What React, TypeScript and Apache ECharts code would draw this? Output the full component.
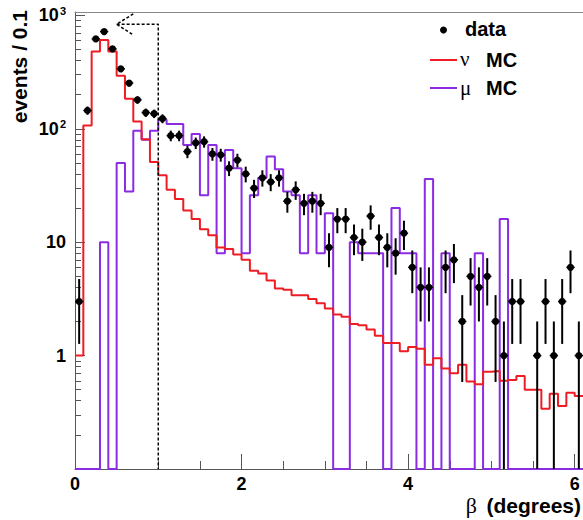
import React, { useEffect, useRef } from 'react';
import * as echarts from 'echarts';

// ---- data (bins of 0.1 degree, from 0 to 6.1) ----
const binWidth = 0.1;
const xMin = 0;
const xMax = 6.1;
const yMinLog = -1; // 0.1
const yMaxLog = 3.03; // ~1070

const dataCounts = [
  3, 145, 620, 720, 507, 338, 253, 180, 139, 136,
  123, 87, 87, 63, 75, 77, 60, 59, 45, 53,
  40, 30, 37, 34, 37, 23, 29, 22, 23, 22,
  9, 16, 16, 11, 10, 17, 11, 9, 8, 12,
  6, 4, 4, 0, 6, 7, 2, 5, 4, 5,
  2, 1, 3, 3, 0, 1, 3, 1, 3, 6, 1,
];

const nuMC = [
  1.0, 107, 480, 608, 480, 293, 184, 116, 81, 51,
  39, 29, 24, 19, 16, 13, 11.5, 9, 8.7, 7.8,
  7.0, 5.6, 5.3, 4.6, 3.9, 3.8, 3.4, 3.4, 3.15, 2.9,
  2.6, 2.3, 2.2, 1.9, 1.85, 1.7, 1.5, 1.29, 1.29, 1.09,
  1.19, 1.15, 0.83, 0.95, 0.77, 0.7, 0.83, 0.59, 0.56, 0.72,
  0.73, 0.6, 0.61, 0.66, 0.5, 0.5, 0.34, 0.46, 0.36, 0.47, 0.44,
];

const muMC = [
  0, 0, 0, 10, 0, 50, 28, 96, 80, 96,
  120, 110, 110, 72, 90, 26, 72, 8, 65, 45,
  8, 26, 37, 57, 44, 28, 26, 8, 26, 8,
  18, 0, 0, 10, 8, 8, 8, 0, 20, 8,
  8, 0, 36, 0, 8, 0, 0, 0, 8, 0,
  0, 16, 0, 0, 0, 0, 0, 0, 0, 0, 0,
];

// cut marker (dashed line with arrow)
const cutX = 1.0;
const cutLevel = 836;
const arrowTipX = 0.5;
const arrowArmX = 0.7;
const arrowArmHigh = 1031;
const arrowArmLow = 673;

const xMajorTicks = [0, 2, 4, 6];
const xMinorTicks = [0.5, 1, 1.5, 2.5, 3, 3.5, 4.5, 5, 5.5];
const yMajorTicks = [0, 1, 2, 3]; // log10 values: 1, 10, 10^2, 10^3
const yMinorValues = [
  0.2, 0.3, 0.4, 0.5, 0.6, 0.7, 0.8, 0.9,
  2, 3, 4, 5, 6, 7, 8, 9,
  20, 30, 40, 50, 60, 70, 80, 90,
  200, 300, 400, 500, 600, 700, 800, 900,
];

const RED = '#ee1c25';
const PURPLE = '#8b2be2';
const SANS = '"Liberation Sans", Arial, Helvetica, sans-serif';
const SERIF = '"Liberation Serif", "DejaVu Serif", serif';

const lg = (v: number) => (v > 0 ? Math.max(Math.log10(v), yMinLog) : yMinLog);

function steps(vals: number[]) {
  const pts: number[][] = [];
  vals.forEach((v, i) => {
    const y = lg(v);
    pts.push([i * binWidth, y], [(i + 1) * binWidth, y]);
  });
  return pts;
}

export default function App() {
  const ref = useRef<HTMLDivElement>(null);
  useEffect(() => {
    if (!ref.current) return;
    const chart = echarts.init(ref.current, null, { renderer: 'svg' });
    const axisCommon = { type: 'value', min: xMin, max: xMax, splitLine: { show: false } };
    const yCommon = { type: 'value', min: yMinLog, max: yMaxLog, splitLine: { show: false } };
    const option: any = {
      animation: false,
      backgroundColor: '#fff',
      grid: { left: 75, right: 0, top: 12, bottom: 51, containLabel: false },
      xAxis: [
        {
          ...axisCommon,
          position: 'bottom',
          axisLine: { show: true, onZero: false, lineStyle: { color: '#555', width: 1 } },
          axisTick: { show: true, inside: true, length: 15, customValues: xMajorTicks, lineStyle: { color: '#555' } },
          axisLabel: {
            customValues: xMajorTicks,
            fontSize: 18,
            lineHeight: 16,
            fontWeight: 'bold',
            fontFamily: SANS,
            color: '#000',
            margin: 7,
            formatter: (v: number) => String(v),
          },
        },
        {
          ...axisCommon,
          position: 'bottom',
          axisLine: { show: false, onZero: false },
          axisTick: { show: true, inside: true, length: 8, customValues: xMinorTicks, lineStyle: { color: '#555' } },
          axisLabel: { show: false },
        },
        {
          ...axisCommon,
          position: 'top',
          axisLine: { show: true, onZero: false, lineStyle: { color: '#888', width: 1 } },
          axisTick: { show: false },
          axisLabel: { show: false },
        },
      ],
      yAxis: [
        {
          ...yCommon,
          position: 'left',
          axisLine: { show: true, onZero: false, lineStyle: { color: '#555', width: 1 } },
          axisTick: { show: true, inside: true, length: 10, customValues: yMajorTicks, lineStyle: { color: '#555' } },
          axisLabel: {
            customValues: yMajorTicks,
            margin: 9,
            fontSize: 18,
            fontWeight: 'bold',
            fontFamily: SANS,
            color: '#000',
            formatter: (v: number) => {
              const r = Math.round(v);
              if (Math.abs(v - r) > 1e-6) return '';
              if (r === 0) return '1';
              if (r === 1) return '10';
              if (r >= 2) return `10{sup|${r}}`;
              return '';
            },
            rich: {
              sup: { fontSize: 11, fontWeight: 'bold', fontFamily: SANS, color: '#000', padding: [0, 0, 9, 1] },
            },
          },
        },
        {
          ...yCommon,
          position: 'left',
          axisLine: { show: false, onZero: false },
          axisTick: { show: true, inside: true, length: 6, customValues: yMinorValues.map((v) => Math.log10(v)), lineStyle: { color: '#555' } },
          axisLabel: { show: false },
        },
      ],
      series: [
        {
          name: 'μ MC',
          type: 'line',
          data: steps(muMC),
          symbol: 'none',
          lineStyle: { color: PURPLE, width: 2 },
          z: 3,
        },
        {
          name: 'ν MC',
          type: 'line',
          data: steps(nuMC),
          symbol: 'none',
          lineStyle: { color: RED, width: 2 },
          z: 4,
        },
        {
          name: 'cut',
          type: 'line',
          data: [
            [arrowTipX, Math.log10(cutLevel)],
            [cutX, Math.log10(cutLevel)],
            [cutX, yMinLog],
          ],
          symbol: 'none',
          lineStyle: { color: '#000', width: 1.5, type: [3, 2] },
          z: 5,
        },
        {
          name: 'arrow',
          type: 'line',
          data: [
            [arrowArmX, Math.log10(arrowArmHigh)],
            [arrowTipX, Math.log10(cutLevel)],
            [arrowArmX, Math.log10(arrowArmLow)],
          ],
          symbol: 'none',
          lineStyle: { color: '#000', width: 1.5, type: [3, 2] },
          z: 5,
        },
        {
          name: 'data',
          type: 'custom',
          data: dataCounts.map((n, i) => [(i + 0.5) * binWidth, n]),
          encode: { x: 0, y: 1 },
          clip: true,
          z: 6,
          renderItem: (params: any, api: any) => {
            const x = api.value(0) as number;
            const n = api.value(1) as number;
            if (!(n > 0)) return null;
            const e = Math.sqrt(n);
            const ly = Math.log10(n);
            const c = api.coord([x, ly]);
            const top = api.coord([x, lg(n + e)]);
            const bot = api.coord([x, lg(n - e)]);
            const l = api.coord([x - binWidth / 2, ly]);
            const r = api.coord([x + binWidth / 2, ly]);
            return {
              type: 'group',
              children: [
                { type: 'line', shape: { x1: c[0], y1: top[1], x2: c[0], y2: bot[1] }, style: { stroke: '#000', lineWidth: 2 } },
                { type: 'line', shape: { x1: l[0], y1: c[1], x2: r[0], y2: c[1] }, style: { stroke: '#000', lineWidth: 1.5 } },
                { type: 'circle', shape: { cx: c[0], cy: c[1], r: 3.6 }, style: { fill: '#000' } },
              ],
            };
          },
        },
      ],
      graphic: [
        { type: 'circle', shape: { cx: 443.5, cy: 30, r: 3.5 }, style: { fill: '#000' } },
        {
          type: 'text', x: 465, y: 29,
          style: { text: 'data', font: `bold 20px ${SANS}`, fill: '#000', verticalAlign: 'middle', textVerticalAlign: 'middle' },
        },
        { type: 'line', shape: { x1: 430, y1: 60, x2: 457, y2: 60 }, style: { stroke: RED, lineWidth: 2 } },
        {
          type: 'text', x: 460, y: 59,
          style: { text: 'ν', font: `21px ${SERIF}`, fill: '#000', verticalAlign: 'middle', textVerticalAlign: 'middle' },
        },
        {
          type: 'text', x: 486, y: 60,
          style: { text: 'MC', font: `bold 20px ${SANS}`, fill: '#000', verticalAlign: 'middle', textVerticalAlign: 'middle' },
        },
        { type: 'line', shape: { x1: 430, y1: 88, x2: 457, y2: 88 }, style: { stroke: PURPLE, lineWidth: 2 } },
        {
          type: 'text', x: 460, y: 88,
          style: { text: 'μ', font: `21px ${SERIF}`, fill: '#000', verticalAlign: 'middle', textVerticalAlign: 'middle' },
        },
        {
          type: 'text', x: 486, y: 88,
          style: { text: 'MC', font: `bold 20px ${SANS}`, fill: '#000', verticalAlign: 'middle', textVerticalAlign: 'middle' },
        },
        {
          type: 'text', x: 19, y: 10, rotation: Math.PI / 2,
          style: {
            text: 'events / 0.1', font: `bold 21px ${SANS}`, fill: '#000',
            align: 'right', textAlign: 'right', verticalAlign: 'middle', textVerticalAlign: 'middle',
          },
        },
        {
          type: 'text', x: 477, y: 505,
          style: { text: 'β', font: `22px ${SERIF}`, lineHeight: 20, fill: '#000', align: 'right', textAlign: 'right', verticalAlign: 'middle', textVerticalAlign: 'middle' },
        },
        {
          type: 'text', x: 581, y: 505,
          style: { text: '(degrees)', font: `bold 21px ${SANS}`, lineHeight: 20, fill: '#000', align: 'right', textAlign: 'right', verticalAlign: 'middle', textVerticalAlign: 'middle' },
        },
      ],
    };
    chart.setOption(option);
    return () => chart.dispose();
  }, []);
  return (
    <div
      ref={ref}
      style={{ position: 'absolute', left: 0, top: 0, width: 583, height: 520, background: '#fff' }}
    />
  );
}
